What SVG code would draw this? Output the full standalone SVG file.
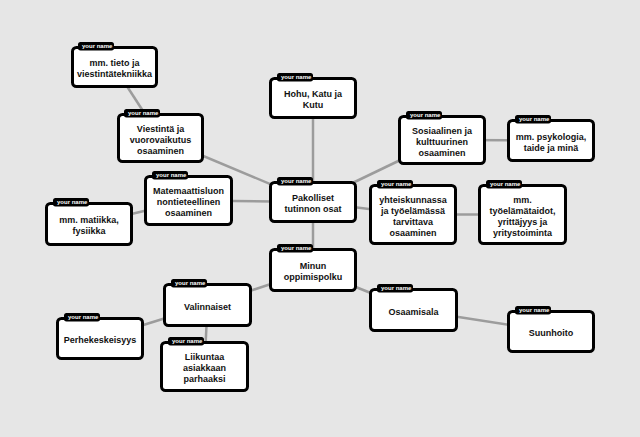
<svg xmlns="http://www.w3.org/2000/svg" width="640" height="437" viewBox="0 0 640 437">
<style>
.bg{fill:#e6e6e6}
.box{fill:#fff;stroke:#000;stroke-width:3}
.tag{fill:#000}
.tt{fill:#fff;font-family:"Liberation Sans",Arial,sans-serif;font-weight:bold;font-size:6px}
.lbl{fill:#111;font-family:"Liberation Sans",Arial,sans-serif;font-weight:bold;font-size:9px;text-anchor:middle}
.edge{stroke:#9c9c9c;stroke-width:2.5;fill:none}
</style>
<defs>
<g id="tagshape"><rect class="tag" x="0" y="0" width="36" height="8.5" rx="2.5"/><text class="tt" x="4" y="6.3">your name</text></g>
</defs>
<rect class="bg" x="0" y="0" width="640" height="437"/>
<g id="connectors">
<line class="edge" x1="114.5" y1="67" x2="160.5" y2="138"/>
<line class="edge" x1="160.5" y1="138" x2="313" y2="202"/>
<line class="edge" x1="313" y1="98" x2="313" y2="202"/>
<line class="edge" x1="188.5" y1="200.5" x2="313" y2="202"/>
<line class="edge" x1="89" y1="224" x2="188.5" y2="200.5"/>
<line class="edge" x1="442" y1="140" x2="313" y2="202"/>
<line class="edge" x1="551" y1="140.5" x2="442" y2="140"/>
<line class="edge" x1="413" y1="214.5" x2="313" y2="202"/>
<line class="edge" x1="522.5" y1="214.5" x2="413" y2="214.5"/>
<line class="edge" x1="313" y1="270" x2="313" y2="202"/>
<line class="edge" x1="207.5" y1="305" x2="313" y2="270"/>
<line class="edge" x1="100" y1="338.5" x2="207.5" y2="305"/>
<line class="edge" x1="204.5" y1="366.5" x2="207.5" y2="305"/>
<line class="edge" x1="413.5" y1="310" x2="313" y2="270"/>
<line class="edge" x1="551" y1="331.5" x2="413.5" y2="310"/>
</g>
<g id="n1"><rect class="box" x="72.5" y="47.5" width="84" height="39" rx="4"/><use href="#tagshape" x="78" y="42"/><text class="lbl" x="114.5" y="66">mm. tieto ja</text><text class="lbl" x="114.5" y="77">viestintätekniikka</text></g>
<g id="n2"><rect class="box" x="118.5" y="114.5" width="84" height="47" rx="4"/><use href="#tagshape" x="124" y="109"/><text class="lbl" x="160.5" y="131.5">Viestintä ja</text><text class="lbl" x="160.5" y="142.5">vuorovaikutus</text><text class="lbl" x="160.5" y="153.5">osaaminen</text></g>
<g id="n3"><rect class="box" x="270.5" y="78.5" width="85" height="39" rx="4"/><use href="#tagshape" x="277" y="73"/><text class="lbl" x="313" y="97">Hohu, Katu ja</text><text class="lbl" x="313" y="108">Kutu</text></g>
<g id="n4"><rect class="box" x="270.5" y="182.5" width="85" height="39" rx="4"/><use href="#tagshape" x="277" y="177"/><text class="lbl" x="313" y="201">Pakolliset</text><text class="lbl" x="313" y="212">tutinnon osat</text></g>
<g id="n5"><rect class="box" x="399.5" y="116.5" width="85" height="47" rx="4"/><use href="#tagshape" x="406" y="111"/><text class="lbl" x="442" y="133.5">Sosiaalinen ja</text><text class="lbl" x="442" y="144.5">kulttuurinen</text><text class="lbl" x="442" y="155.5">osaaminen</text></g>
<g id="n6"><rect class="box" x="508.5" y="120.5" width="85" height="40" rx="4"/><use href="#tagshape" x="515" y="115"/><text class="lbl" x="551" y="139.5">mm. psykologia,</text><text class="lbl" x="551" y="150.5">taide ja minä</text></g>
<g id="n7"><rect class="box" x="370.5" y="185.5" width="85" height="58" rx="4"/><use href="#tagshape" x="377" y="180"/><text class="lbl" x="413" y="202.5">yhteiskunnassa</text><text class="lbl" x="413" y="213.5">ja työelämässä</text><text class="lbl" x="413" y="224.5">tarvittava</text><text class="lbl" x="413" y="235.5">osaaminen</text></g>
<g id="n8"><rect class="box" x="479.5" y="185.5" width="86" height="58" rx="4"/><use href="#tagshape" x="486" y="180"/><text class="lbl" x="522.5" y="202.5">mm.</text><text class="lbl" x="522.5" y="213.5">työelämätaidot,</text><text class="lbl" x="522.5" y="224.5">yrittäjyys ja</text><text class="lbl" x="522.5" y="235.5">yritystoiminta</text></g>
<g id="n9"><rect class="box" x="145.5" y="176.5" width="86" height="48" rx="4"/><use href="#tagshape" x="152" y="171"/><text class="lbl" x="188.5" y="194">Matemaattisluon</text><text class="lbl" x="188.5" y="205">nontieteellinen</text><text class="lbl" x="188.5" y="216">osaaminen</text></g>
<g id="n10"><rect class="box" x="46.5" y="203.5" width="85" height="41" rx="4"/><use href="#tagshape" x="53" y="198"/><text class="lbl" x="89" y="223">mm. matiikka,</text><text class="lbl" x="89" y="234">fysiikka</text></g>
<g id="n11"><rect class="box" x="270.5" y="249.5" width="85" height="41" rx="4"/><use href="#tagshape" x="277" y="244"/><text class="lbl" x="313" y="269">Minun</text><text class="lbl" x="313" y="280">oppimispolku</text></g>
<g id="n12"><rect class="box" x="164.5" y="284.5" width="86" height="41" rx="4"/><use href="#tagshape" x="171" y="279"/><text class="lbl" x="207.5" y="309.5">Valinnaiset</text></g>
<g id="n13"><rect class="box" x="57.5" y="318.5" width="85" height="40" rx="4"/><use href="#tagshape" x="64" y="313"/><text class="lbl" x="100" y="343">Perhekeskeisyys</text></g>
<g id="n14"><rect class="box" x="161.5" y="342.5" width="86" height="48" rx="4"/><use href="#tagshape" x="168" y="337"/><text class="lbl" x="204.5" y="360">Liikuntaa</text><text class="lbl" x="204.5" y="371">asiakkaan</text><text class="lbl" x="204.5" y="382">parhaaksi</text></g>
<g id="n15"><rect class="box" x="370.5" y="289.5" width="86" height="41" rx="4"/><use href="#tagshape" x="377" y="284"/><text class="lbl" x="413.5" y="314.5">Osaamisala</text></g>
<g id="n16"><rect class="box" x="508.5" y="311.5" width="85" height="40" rx="4"/><use href="#tagshape" x="515" y="306"/><text class="lbl" x="551" y="336">Suunhoito</text></g>
</svg>
